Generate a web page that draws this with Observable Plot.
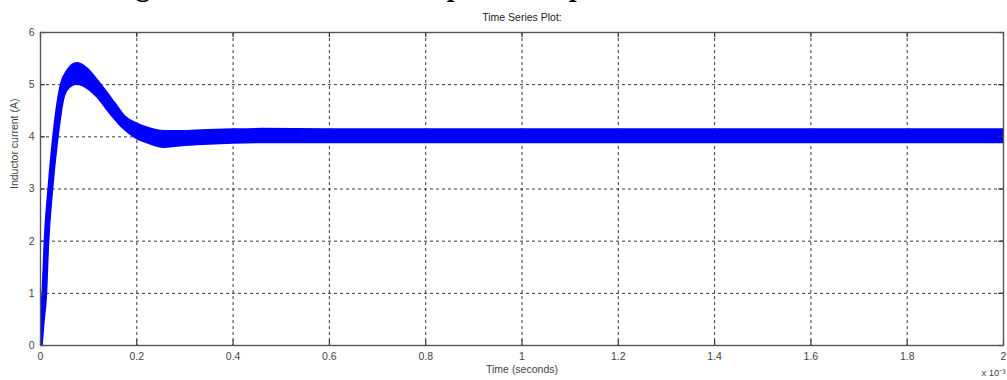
<!DOCTYPE html>
<html>
<head>
<meta charset="utf-8">
<script src="https://cdn.jsdelivr.net/npm/d3@7"></script>
<script src="https://cdn.jsdelivr.net/npm/@observablehq/plot@0.6"></script>
<style>
  html, body { margin: 0; padding: 0; background: #fff; }
  #wrap { position: relative; width: 1007px; height: 380px; overflow: hidden; }
  #cap { position: absolute; left: 0; top: 0; }
  #chart { position: absolute; left: 0; top: 0; }
</style>
</head>
<body>
<div id="wrap">
  <div id="chart"></div>
  <svg id="cap" width="1007" height="8">
    <text x="111" y="-4" font-family="Liberation Serif, Times New Roman, serif" font-weight="bold" font-size="28" fill="#000">Fig. 10 Inductor current output of the presented converter</text>
  </svg>
</div>
<script>
// Time in units of 1e-3 s
const time  = [0, 0.004, 0.009, 0.0135, 0.0215, 0.032, 0.047, 0.06, 0.076, 0.095, 0.118, 0.152, 0.173, 0.201, 0.228, 0.256, 0.29, 0.325, 0.4, 0.46, 0.6, 0.8, 1.0, 1.2, 1.4, 1.6, 1.8, 2.0];
// lower / upper envelope of the rippled inductor current (A)
const lower = [0, 0.45, 0.95, 1.95, 2.95, 3.9, 4.8, 4.98, 5.04, 4.98, 4.81, 4.42, 4.2, 4.0, 3.9, 3.83, 3.86, 3.88, 3.91, 3.92, 3.92, 3.92, 3.92, 3.92, 3.92, 3.92, 3.92, 3.92];
const upper = [0.05, 0.55, 1.05, 2.05, 3.05, 4.08, 5.0, 5.25, 5.37, 5.28, 5.03, 4.62, 4.36, 4.21, 4.12, 4.07, 4.07, 4.08, 4.1, 4.11, 4.1, 4.1, 4.1, 4.1, 4.1, 4.1, 4.1, 4.1];

const xTicks = [0, 0.2, 0.4, 0.6, 0.8, 1, 1.2, 1.4, 1.6, 1.8, 2];
const xTickLabels = ["0", "0.2", "0.4", "0.6", "0.8", "1", "1.2", "1.4", "1.6", "1.8", "2"];
const yTicks = [0, 1, 2, 3, 4, 5, 6];
const yTickLabels = ["0", "1", "2", "3", "4", "5", "6"];

const titleText = "Time Series Plot:";
const xLabel = "Time (seconds)";
const yLabel = "Inductor current (A)";
const xScaleNote = "x 10\u207B\u00B3";

const data = time.map((t, i) => ({t, lo: lower[i], hi: upper[i]}));

const chart = Plot.plot({
  width: 1007,
  height: 380,
  marginTop: 32,
  marginBottom: 35,
  marginLeft: 40,
  marginRight: 4,
  style: {fontFamily: "Liberation Sans, Arial, sans-serif", fontSize: "10.5px", color: "#444", background: "transparent"},
  x: {domain: [0, 2], label: null},
  y: {domain: [0, 6], label: null},
  marks: [
    Plot.gridX(xTicks, {stroke: "#222", strokeOpacity: 0.9, strokeDasharray: "3,3"}),
    Plot.gridY(yTicks, {stroke: "#222", strokeOpacity: 0.9, strokeDasharray: "3,3"}),
    Plot.areaY(data, {x: "t", y1: "lo", y2: "hi", fill: "#0000ff", stroke: "#0000ff", strokeWidth: 5.5, strokeLinejoin: "round", curve: "monotone-x", clip: true}),
    Plot.ruleX(xTicks, {y1: 0, y2: 0.1, stroke: "#333", strokeWidth: 1.2}),
    Plot.ruleX(xTicks, {y1: 5.9, y2: 6, stroke: "#333", strokeWidth: 1.2}),
    Plot.ruleY(yTicks, {x1: 0, x2: 0.01, stroke: "#333", strokeWidth: 1.2}),
    Plot.ruleY(yTicks, {x1: 1.99, x2: 2, stroke: "#333", strokeWidth: 1.2}),
    Plot.frame({stroke: "#555", strokeWidth: 1.4}),
    Plot.axisX(xTicks, {tickSize: 0, tickPadding: 7, tickFormat: (d, i) => xTickLabels[i], label: null}),
    Plot.axisY(yTicks, {tickSize: 0, tickPadding: 6, tickFormat: (d, i) => yTickLabels[i], label: null}),
    Plot.text([titleText], {frameAnchor: "top", dy: -19, fill: "#222", fontSize: 10.5}),
    Plot.text([xLabel], {frameAnchor: "bottom", dy: 27, fill: "#444"}),
    Plot.text([yLabel], {frameAnchor: "left", dx: -26, rotate: -90, fill: "#444"}),
    Plot.text([xScaleNote], {frameAnchor: "bottom-right", dx: 2, dy: 30, textAnchor: "end", fill: "#444", fontSize: 9.5})
  ]
});
document.getElementById("chart").appendChild(chart);
</script>
</body>
</html>
